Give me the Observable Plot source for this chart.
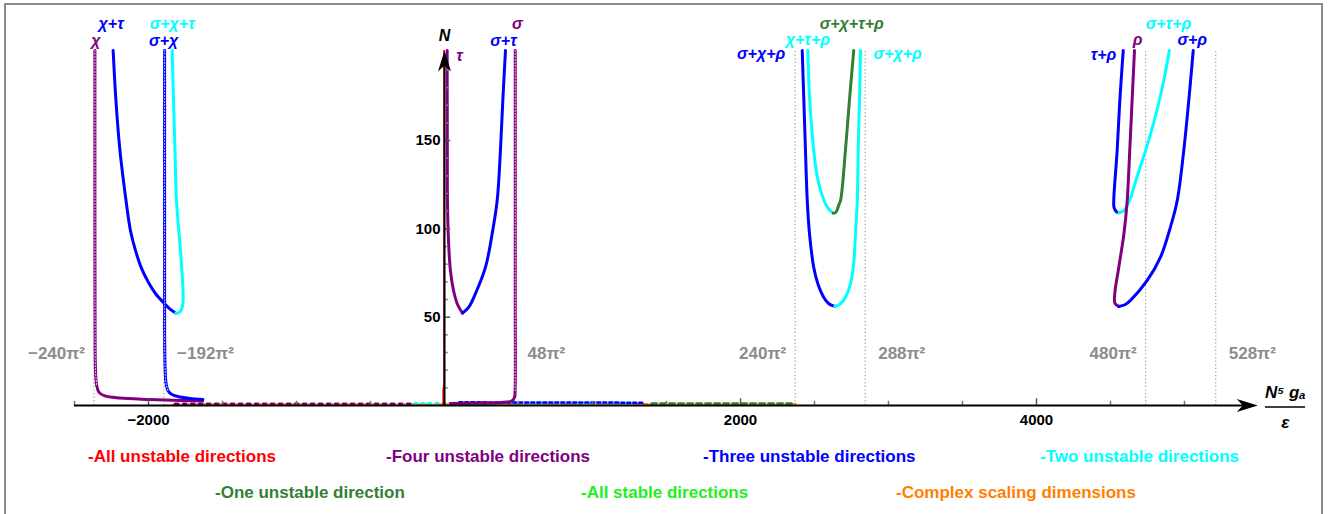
<!DOCTYPE html>
<html><head><meta charset="utf-8">
<script src="https://cdn.jsdelivr.net/npm/d3@7"></script>
<script src="https://cdn.jsdelivr.net/npm/@observablehq/plot@0.6"></script>
<style>
body{margin:0;background:#fff;}
#wrap{position:relative;width:1338px;height:514px;overflow:hidden;font-family:"Liberation Sans",Arial,sans-serif;}
#chart{position:absolute;left:0;top:0;}
#frame{position:absolute;left:4px;top:3px;width:1319px;height:600px;box-sizing:border-box;border:2.5px solid #8c8c8c;pointer-events:none;}
#legend{position:absolute;left:0;top:430px;width:1338px;height:84px;font-weight:bold;font-size:17px;font-family:"Liberation Sans Narrow","Arial Narrow","Liberation Sans",sans-serif;}
#legend span{position:absolute;white-space:nowrap;transform:translateY(-50%);}
</style></head><body>
<div id="wrap"><div id="chart"></div><div id="legend"></div><div id="frame"></div></div>
<script>
// ---------- data ----------
const classes = ["all","four","three","two","one","stable","complex"];
const classColors = ["#ff0000","#800080","#0000ff","#00ffff","#338033","#22ee22","#ff8000"];
const legendNames = ["All unstable directions","Four unstable directions","Three unstable directions","Two unstable directions","One unstable direction","All stable directions","Complex scaling dimensions"];

const asymCoef = [-240, -192, 48, 240, 288, 480, 528];   // multiples of pi^2
const asymSide = ["end","start","start","end","start","end","start"];

const xMajor = [-2000, 2000, 4000];
const xMinor = [-2500,-1500,-1000,-500,500,1000,1500,2500,3000,3500,4500,5000];
const yMajor = [50, 100, 150];
const yMinor = [10,20,30,40,60,70,80,90,110,120,130,140,160,170,180,190];

// curves (x = N^5 g_a / eps, N)
const chi_x = [-2362,-2362,-2361,-2358,-2350,-2334,-2295,-2195,-1993,-1635];
const chi_N = [201,99.1,42.5,19.8,11.3,7.4,5.4,4.2,3.4,2.5];
const sigchi_x = [-1891,-1891,-1889,-1882,-1869,-1842,-1788,-1720,-1632];
const sigchi_N = [201,87.8,25.5,13.0,8.5,6.2,4.8,4.0,3.4];
const chitau_x = [-2239,-2220,-2193,-2152,-2122,-2088,-2047,-2000,-1953,-1899,-1858,-1816];
const chitau_N = [201,172.7,144.4,116.1,99.1,87.8,77.6,69.6,63.4,58.3,54.9,52.3];
const sigchitau_x = [-1840,-1831,-1821,-1811,-1784,-1767,-1767,-1777,-1797,-1816];
const sigchitau_N = [201,172.7,144.4,116.1,87.8,65.1,58.3,54.4,52.4,52.3];
const tau_x = [18,19,20,27,40,61,88,122];
const tau_N = [201,144.4,116.1,93.4,76.4,65.1,57.2,52.3];
const sigtau_x = [122,164,209,277,322,356,378,394,412];
const sigtau_N = [52.3,55.7,63.3,78.3,97.2,116.1,144.4,172.7,201];
const sig_x = [478,478,477,473,453,378,243,40];
const sig_N = [201,60,8.5,4.5,2.5,1.7,1.4,1.1];
const sigchirhoB_x = [2417,2428,2439,2451,2466,2495,2522,2563,2597,2637];
const sigchirhoB_N = [201,172.7,144.4,116.1,97.4,78.1,69.1,61.2,57.6,56.1];
const sigchirhoC_x = [2637,2676,2709,2743,2766,2777,2789,2795,2804,2811];
const sigchirhoC_N = [56.1,57.6,61.3,68.9,81.5,97.4,116.1,144.4,172.7,201];
const chitaurho_x = [2455,2468,2495,2517,2541,2586,2626];
const chitaurho_N = [201,172.7,144.4,130.2,121.8,112.3,108.9];
const sigchitaurho_x = [2626,2642,2652,2664,2676,2709,2736,2765];
const sigchitaurho_N = [108.9,109.2,110.5,113.5,116.1,144.4,172.7,201];
const taurho_x = [4586,4563,4545,4522,4524,4541,4557];
const taurho_N = [201,172.7,144.4,116.1,112.1,109.6,109.1];
const sigtaurho_x = [4557,4590,4624,4682,4737,4787,4830,4867,4898];
const sigtaurho_N = [109.1,110.4,115.1,130.2,144.4,158.6,172.7,186.9,201];
const rho_x = [4662,4646,4630,4613,4591,4556,4529,4530,4556];
const rho_N = [201,172.7,144.4,116.1,97.4,78.3,63.4,57.8,56.1];
const sigrho_x = [4556,4601,4635,4748,4838,4905,4951,4995,5029,5059];
const sigrho_N = [56.1,57.2,59.5,70.8,84.0,101.0,116.1,144.4,172.7,201];
const allUnst_x = [-9,-9,-3,-3];
const allUnst_N = [0,9,12,201];

// low-N branches hugging the axis
const lowComplex_x = [-1830,-900,0,800,1600,2370];
const lowComplex_N = [0.5,0.5,0.6,0.7,0.8,0.9];
const lowFour_x = [-1820,-200];
const lowFour_N = [1.0,1.0];
const lowTwo_x = [-200,1300];
const lowTwo_N = [1.3,1.2];
const lowThree_x = [100,1350];
const lowThree_N = [1.8,1.6];
const lowOne_x = [1400,2370];
const lowOne_N = [1.1,1.1];
const lowStable_x = [60,260];
const lowStable_N = [0.5,0.5];

// ---------- build ----------
const colorOf = Object.fromEntries(classes.map((c,i)=>[c,classColors[i]]));
const curves = [
  {id:"chi", label:"χ", cls:"four", x:chi_x, N:chi_N, dotted:true},
  {id:"sigchi", label:"σ+χ", cls:"three", x:sigchi_x, N:sigchi_N, dotted:true},
  {id:"chitau", label:"χ+τ", cls:"three", x:chitau_x, N:chitau_N},
  {id:"sigchitau", label:"σ+χ+τ", cls:"two", x:sigchitau_x, N:sigchitau_N},
  {id:"tau", label:"τ", cls:"four", x:tau_x, N:tau_N},
  {id:"sigtau", label:"σ+τ", cls:"three", x:sigtau_x, N:sigtau_N},
  {id:"sig", label:"σ", cls:"four", x:sig_x, N:sig_N, dotted:true},
  {id:"sigchirhoB", label:"σ+χ+ρ", cls:"three", x:sigchirhoB_x, N:sigchirhoB_N},
  {id:"sigchirhoC", label:"σ+χ+ρ", cls:"two", x:sigchirhoC_x, N:sigchirhoC_N},
  {id:"chitaurho", label:"χ+τ+ρ", cls:"two", x:chitaurho_x, N:chitaurho_N},
  {id:"sigchitaurho", label:"σ+χ+τ+ρ", cls:"one", x:sigchitaurho_x, N:sigchitaurho_N},
  {id:"taurho", label:"τ+ρ", cls:"three", x:taurho_x, N:taurho_N},
  {id:"sigtaurho", label:"σ+τ+ρ", cls:"two", x:sigtaurho_x, N:sigtaurho_N},
  {id:"rho", label:"ρ", cls:"four", x:rho_x, N:rho_N},
  {id:"sigrho", label:"σ+ρ", cls:"three", x:sigrho_x, N:sigrho_N}
];
const lowSeries = [
  {id:"lc", cls:"complex", x:lowComplex_x, N:lowComplex_N, dash:"6,3"},
  {id:"lf", cls:"four", x:lowFour_x, N:lowFour_N, dash:"3,5"},
  {id:"lt", cls:"two", x:lowTwo_x, N:lowTwo_N, dash:"2,5"},
  {id:"l3", cls:"three", x:lowThree_x, N:lowThree_N, dash:"3,3"},
  {id:"l1", cls:"one", x:lowOne_x, N:lowOne_N, dash:"5,4"},
  {id:"ls", cls:"stable", x:lowStable_x, N:lowStable_N, dash:null}
];
const labelPlace = {
  chi:{dx:1,dy:-10,a:"middle"}, sigchi:{dx:-1,dy:-10,a:"middle"}, chitau:{dx:-2,dy:-27,a:"middle"},
  sigchitau:{dx:0,dy:-27,a:"middle"}, tau:{dx:9,dy:5,a:"start"}, sigtau:{dx:-2,dy:-10,a:"middle"},
  sig:{dx:2,dy:-27,a:"middle"}, sigchirhoB:{dx:-17,dy:3,a:"end"}, sigchirhoC:{dx:13,dy:3,a:"start"},
  chitaurho:{dx:0,dy:-11,a:"middle"}, sigchitaurho:{dx:-2,dy:-27,a:"middle"}, taurho:{dx:-7,dy:4,a:"end"},
  rho:{dx:3,dy:-11,a:"middle"}, sigtaurho:{dx:-1,dy:-27,a:"middle"}, sigrho:{dx:-1,dy:-11,a:"middle"}
};

const toRows = s => s.x.map((x,i)=>({x, N:s.N[i], id:s.id, cls:s.cls}));
const curveRows = curves.flatMap(toRows);
const dottedRows = curves.filter(c=>c.dotted).flatMap(c => toRows(c).filter(d=>d.N>8));
const asymVals = asymCoef.map(c=>c*Math.PI*Math.PI);
const asymRows = asymCoef.map((c,i)=>({x:asymVals[i], side:asymSide[i], text:(c<0?"−":"")+Math.abs(c)+"π²"}));

const xDomain = [-2500, 5500], yDomain = [0, 201];
const fontFam = "'Liberation Sans', Arial, sans-serif";
const arrowRight = {draw(ctx){ctx.moveTo(0,0);ctx.lineTo(-21,-6.5);ctx.lineTo(-15,0);ctx.lineTo(-21,6.5);ctx.closePath();}};
const arrowUp = {draw(ctx){ctx.moveTo(0,0);ctx.lineTo(-6.5,21);ctx.lineTo(0,15);ctx.lineTo(6.5,21);ctx.closePath();}};

const marks = [];
marks.push(Plot.ruleX(asymVals, {y1:0, y2:yDomain[1], stroke:"#9a9a9a", strokeWidth:1.2, strokeDasharray:"1.2,2.4"}));
for (const s of lowSeries) {
  marks.push(Plot.line(toRows(s), {x:"x", y:"N", stroke:colorOf[s.cls], strokeWidth:2.5, strokeDasharray:s.dash || undefined}));
}
marks.push(Plot.line(curveRows, {x:"x", y:"N", z:"id", stroke:"cls", strokeWidth:3, curve:"catmull-rom"}));
marks.push(Plot.line(dottedRows, {x:"x", y:"N", z:"id", stroke:"white", strokeOpacity:0.85, strokeWidth:1, strokeDasharray:"1,2", curve:"catmull-rom"}));
marks.push(Plot.line(allUnst_x.map((x,i)=>({x,N:allUnst_N[i]})), {x:"x", y:"N", stroke:colorOf.all, strokeWidth:1.6}));
// axes
marks.push(Plot.ruleX(xMinor, {y1:0, y2:2.4, stroke:"#777", strokeWidth:1.5}));
marks.push(Plot.ruleX(xMajor, {y1:0, y2:3.8, stroke:"#555", strokeWidth:1.5}));
marks.push(Plot.ruleY(yMinor, {x1:0, x2:26, stroke:"#888", strokeWidth:1.5}));
marks.push(Plot.ruleY(yMajor, {x1:0, x2:42, stroke:"#555", strokeWidth:1.5}));
marks.push(Plot.ruleY([0], {x1:xDomain[0], x2:xDomain[1]-60, stroke:"black", strokeWidth:2}));
marks.push(Plot.ruleX([0], {y1:-0.6, y2:yDomain[1]-6, stroke:"black", strokeWidth:2}));
marks.push(Plot.dot([0], {x:xDomain[1]-5, y:0, symbol:arrowRight, fill:"black", stroke:"none"}));
marks.push(Plot.dot([0], {x:0, y:yDomain[1], symbol:arrowUp, fill:"black", stroke:"none"}));
marks.push(Plot.text(xMajor, {x:d=>d, y:0, dy:15, text:d=>(d<0?"−":"")+Math.abs(d), fontWeight:"bold", fontSize:15, fill:"black", fontFamily:fontFam}));
marks.push(Plot.text(yMajor, {x:0, y:d=>d, dx:-4, textAnchor:"end", text:d=>String(d), fontWeight:"bold", fontSize:15, fill:"black", fontFamily:fontFam}));
marks.push(Plot.text(["N"], {x:0, y:yDomain[1], dy:-15, text:d=>d, fontWeight:"bold", fontStyle:"italic", fontSize:16, fill:"black", fontFamily:fontFam}));
marks.push(Plot.text(["N⁵ gₐ"], {x:5682, y:0, dy:-13, text:d=>d, fontWeight:"bold", fontStyle:"italic", fontSize:17, fill:"black", fontFamily:fontFam}));
marks.push(Plot.ruleY([0], {x1:5547, x2:5818, dy:1.5, stroke:"black", strokeWidth:1.5}));
marks.push(Plot.text(["ε"], {x:5682, y:0, dy:17, text:d=>d, fontWeight:"bold", fontStyle:"italic", fontSize:17, fill:"black", fontFamily:fontFam}));
// asymptote labels
marks.push(Plot.text(asymRows.filter(d=>d.side==="end"), {x:"x", y:29.4, text:"text", dx:-9, textAnchor:"end", fill:"#8c8c8c", fontWeight:"bold", fontSize:17, fontFamily:fontFam}));
marks.push(Plot.text(asymRows.filter(d=>d.side==="start"), {x:"x", y:29.4, text:"text", dx:13, textAnchor:"start", fill:"#8c8c8c", fontWeight:"bold", fontSize:17, fontFamily:fontFam}));
// curve labels
for (const c of curves) {
  const rows = toRows(c);
  const top = rows.reduce((a,b)=> b.N>a.N ? b : a);
  const p = labelPlace[c.id];
  marks.push(Plot.text([top], {x:"x", y:"N", text:()=>c.label, dx:p.dx, dy:p.dy, textAnchor:p.a, fill:colorOf[c.cls], fontWeight:"bold", fontStyle:"italic", fontSize:16, fontFamily:fontFam}));
}

const plot = Plot.plot({
  width:1338, height:430,
  marginLeft:74, marginRight:80, marginTop:50, marginBottom:25,
  x:{domain:xDomain, axis:null},
  y:{domain:yDomain, axis:null},
  color:{domain:classes, range:classColors},
  style:{fontFamily:fontFam, background:"transparent", overflow:"visible"},
  marks
});
document.getElementById("chart").appendChild(plot);

// legend
const legendPos = [[88,27],[386,27],[703,27],[1040,27],[215,63],[581,63],[896,63]];
const lg = document.getElementById("legend");
classes.forEach((c,i)=>{
  const s = document.createElement("span");
  s.textContent = "-" + legendNames[i];
  s.style.color = classColors[i];
  s.style.left = legendPos[i][0] + "px";
  s.style.top = legendPos[i][1] + "px";
  lg.appendChild(s);
});
</script>
</body></html>
